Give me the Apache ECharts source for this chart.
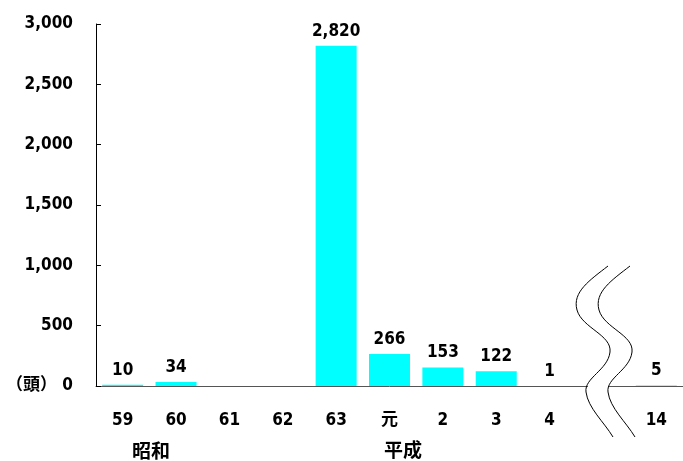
<!DOCTYPE html>
<html>
<head>
<meta charset="utf-8">
<script src="https://cdn.jsdelivr.net/npm/echarts@6/dist/echarts.min.js"></script>
<style>
  html, body { margin: 0; padding: 0; background: #fff; }
  #chart { width: 683px; height: 461px; }
</style>
</head>
<body>
<div id="chart"></div>
<script>
// 年度 (昭和59〜平成14), 空欄は省略区間
var years = ["59", "60", "61", "62", "63", "元", "2", "3", "4", "", "14"];
var heads = [10, 34, null, null, 2820, 266, 153, 122, 1, null, 5];
var yTicks = { min: 0, max: 3000, interval: 500 };

var font = '"DejaVu Sans Condensed", "Noto Sans CJK JP", sans-serif';
var cjk = '"Noto Sans CJK JP", sans-serif';

var myChart = echarts.init(document.getElementById("chart"));

// 波線（省略記号） [x1,y1, cpx1,cpy1, cpx2,cpy2, x2,y2]
var wave = [
  [608, 266, 590, 280, 572, 292, 577, 310],
  [577, 310, 582, 328, 612, 335, 610, 352],
  [610, 352, 608, 370, 584, 378, 586, 392],
  [586, 392, 588, 408, 604, 422, 613, 437],
];

function waveCurves(dx) {
  return wave.map(function (s) {
    return {
      type: "bezierCurve",
      shape: {
        x1: s[0] + dx, y1: s[1],
        cpx1: s[2] + dx, cpy1: s[3],
        cpx2: s[4] + dx, cpy2: s[5],
        x2: s[6] + dx, y2: s[7],
      },
      style: { fill: null, stroke: "#000", lineWidth: 1 },
      z: 101,
    };
  });
}

var option = {
  animation: false,
  grid: { left: 96, right: -8, top: 24, bottom: 75 },
  xAxis: {
    type: "category",
    data: years,
    axisLine: { lineStyle: { color: "#555", width: 1 } },
    axisTick: { inside: true, length: 6, lineStyle: { color: "#555" } },
    axisLabel: {
      margin: 26,
      fontSize: 17,
      fontWeight: "bold",
      fontFamily: font,
      color: "#000",
    },
  },
  yAxis: {
    type: "value",
    min: yTicks.min,
    max: yTicks.max,
    interval: yTicks.interval,
    splitLine: { show: false },
    axisLine: { show: true, lineStyle: { color: "#000" } },
    axisTick: { show: true, inside: true, length: 5, lineStyle: { color: "#000" } },
    axisLabel: {
      margin: 23,
      fontSize: 17,
      fontWeight: "bold",
      fontFamily: font,
      color: "#000",
      formatter: function (v) {
        if (v === 0) return "（頭） 0";
        return v.toLocaleString("en-US");
      },
    },
  },
  series: [
    {
      type: "bar",
      data: heads,
      barWidth: 41,
      itemStyle: { color: "#00ffff" },
      label: {
        show: true,
        position: "top",
        distance: 6,
        fontSize: 17,
        fontWeight: "bold",
        fontFamily: font,
        color: "#000",
        formatter: function (p) {
          return p.value == null ? "" : p.value.toLocaleString("en-US");
        },
      },
    },
  ],
  graphic: [
    {
      type: "rect",
      shape: { x: 588, y: 382, width: 20, height: 8 },
      style: { fill: "#fff" },
      z: 100,
    },
    {
      type: "text",
      x: 151,
      y: 451,
      style: { text: "昭和", fontSize: 19, fontWeight: "bold", fontFamily: cjk, fill: "#000", align: "center", verticalAlign: "middle" },
    },
    {
      type: "text",
      x: 403,
      y: 450,
      style: { text: "平成", fontSize: 19, fontWeight: "bold", fontFamily: cjk, fill: "#000", align: "center", verticalAlign: "middle" },
    },
  ].concat(waveCurves(0), waveCurves(22)),
};

myChart.setOption(option);
</script>
</body>
</html>
